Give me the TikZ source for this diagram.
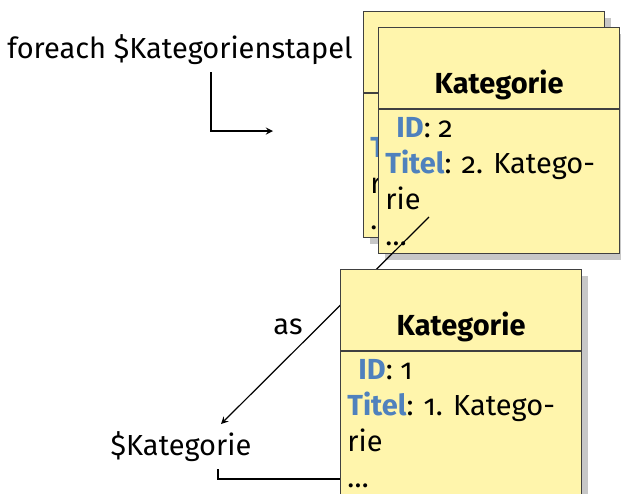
\documentclass[tikz,border=0pt]{standalone}
\usepackage{fontspec}
\setmainfont[Numbers=OldStyle]{Fira Sans}
\usetikzlibrary{calc}
\usetikzlibrary{arrows}
\definecolor{katgelb}{RGB}{255,245,172}
\definecolor{katblau}{RGB}{79,129,189}
\newcommand{\feld}[1]{\textcolor{katblau}{\bfseries #1}}
\tikzstyle{every node}=[font=\fontsize{14.5}{18}\selectfont]
\tikzset{
    kbox/.style={draw=black!75, line width=0.6pt, fill=katgelb, anchor=north west,
        minimum width=120.5pt, minimum height=113pt, inner sep=0pt},
    kschatten/.style={fill=black!22},
    ktitel/.style={font=\fontsize{14.5}{18}\selectfont\bfseries},
    kinhalt/.style={anchor=north west, align=left, inner sep=0pt},
}
% name, position, id
\newcommand{\kategorie}[3]{
    \fill[kschatten] ($(#2)+(7,7)$) rectangle ++(241,226);
    \node[kbox] (#1) at (#2) {};
    \draw[black!75, line width=0.6pt] ($(#1.north west)+(0,82)$) -- ($(#1.north east)+(0,82)$);
    \node[ktitel] (#1-titel) at ($(#1.north)+(0,58)$) {Kategorie};
    \node[kinhalt] (#1-inhalt) at ($(#1.north west)+(7,90)$)
        {\hspace{5.5pt}\feld{ID}: #3\\\feld{Titel}: #3. Katego-\\rie\\\ldots};
}
\begin{document}
\begin{tikzpicture}[>=stealth, x=0.5pt, y=-0.5pt]
    \useasboundingbox (0,0) rectangle (621,493);
    \node (stapel) at (180,50) {foreach \$Kategorienstapel};
    \node (kvar) at (181,447) {\$Kategorie};
    \node (as) at (288,327) {as};

    \kategorie{k3}{363,11}{3}
    \kategorie{k2}{378,27}{2}

    \coordinate (as-start) at ($(k2.north west)+(51,190)$);
    \coordinate (as-ziel) at ($(kvar.center)+(40,-23)$);
    \draw[->, semithick] (as-start) -- (as-ziel);

    \kategorie{k1}{340,269}{1}

    \coordinate (stapel-ziel) at (273,131);
    \draw[->, semithick] ([xshift=15.5pt]stapel.south) |- (stapel-ziel);
    \draw[semithick] ([xshift=18.5pt]kvar.south) |- ($(k1.north west)+(0,210)$);
\end{tikzpicture}
\end{document}
